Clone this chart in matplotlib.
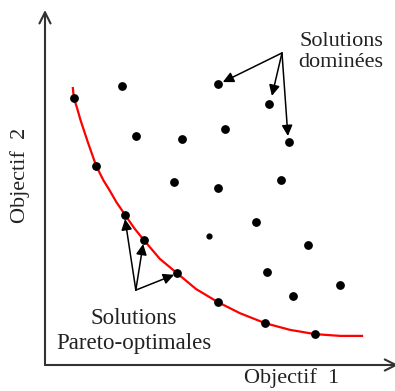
import matplotlib.pyplot as plt

plt.rcParams['font.family'] = ['Liberation Serif', 'DejaVu Serif']

# Solutions Pareto-optimales (objectif 1, objectif 2)
pareto_x = [0.83, 1.47, 2.30, 2.84, 3.79, 4.97, 6.32, 7.76]
pareto_y = [7.52, 5.61, 4.23, 3.52, 2.59, 1.77, 1.18, 0.87]

# Solutions dominées
dom_x = [2.21, 2.61, 3.94, 3.71, 4.97, 6.44, 5.17, 7.01, 4.97, 6.78, 6.06, 7.56, 6.38, 7.13, 8.48]
dom_y = [7.86, 6.45, 6.37, 5.15, 7.92, 7.35, 6.65, 6.28, 4.99, 5.21, 4.03, 3.38, 2.62, 1.94, 2.25]
small_x = [4.71]
small_y = [3.63]

# front de Pareto
front_x = [0.80, 0.83, 0.93, 1.02, 1.24, 1.47, 1.68, 1.85, 2.05, 2.30, 2.56, 2.84, 3.30,
           3.79, 4.34, 4.97, 5.60, 6.32, 7.04, 7.76, 8.48, 9.11]
front_y = [7.80, 7.52, 7.21, 6.90, 6.25, 5.61, 5.20, 4.93, 4.59, 4.23, 3.86, 3.52, 2.99,
           2.59, 2.14, 1.77, 1.46, 1.18, 0.99, 0.87, 0.82, 0.82]

# fleches
dom_origin = (6.81, 8.79)
dom_tips = [(5.11, 7.97), (6.52, 7.58), (6.98, 6.45)]
par_origin = (2.61, 2.11)
par_tips = [(2.30, 4.11), (2.82, 3.41), (3.71, 2.54)]

fig = plt.figure(figsize=(3.95, 3.91), dpi=100)
ax = fig.add_axes([45 / 395, 26 / 391, 348 / 395, 355 / 391])
ax.set_xlim(0, 10)
ax.set_ylim(0, 10)
ax.axis('off')

# axes avec fleches
ax.annotate('', xy=(0, 1), xytext=(0, 0), xycoords='axes fraction',
            arrowprops=dict(arrowstyle='->', color='#333333', lw=1.5, mutation_scale=20,
                            shrinkA=0, shrinkB=0), annotation_clip=False)
ax.annotate('', xy=(1.015, 0), xytext=(0, 0), xycoords='axes fraction',
            arrowprops=dict(arrowstyle='->', color='#333333', lw=1.5, mutation_scale=20,
                            shrinkA=0, shrinkB=0), annotation_clip=False)

ax.plot(front_x, front_y, color='red', lw=1.6, zorder=2, solid_joinstyle='round')
ax.scatter(pareto_x, pareto_y, s=28, color='black', zorder=3)
ax.scatter(dom_x, dom_y, s=28, color='black', zorder=3)
ax.scatter(small_x, small_y, s=12, color='black', zorder=3)

for tip in dom_tips:
    ax.annotate('', xy=tip, xytext=dom_origin,
                arrowprops=dict(arrowstyle='-|>', color='black', lw=1.1, mutation_scale=16,
                                shrinkA=0, shrinkB=0))
for tip in par_tips:
    ax.annotate('', xy=tip, xytext=par_origin,
                arrowprops=dict(arrowstyle='-|>', color='black', lw=1.1, mutation_scale=16,
                                shrinkA=0, shrinkB=0))

fig.text(341 / 395, 1 - 52 / 391, 'Solutions\ndominées', ha='center', va='center',
         fontsize=16, linespacing=1.2, color='#222222')
fig.text(134 / 395, 1 - 331 / 391, 'Solutions\nPareto-optimales', ha='center', va='center',
         fontsize=16.5, linespacing=1.2, color='#222222')
fig.text(292 / 395, 1 - 378 / 391, 'Objectif  1', ha='center', va='center',
         fontsize=16, color='#222222')
fig.text(20 / 395, 1 - 175 / 391, 'Objectif  2', ha='center', va='center',
         fontsize=16, rotation=90, color='#222222')

fig.savefig('out.png', dpi=100)
